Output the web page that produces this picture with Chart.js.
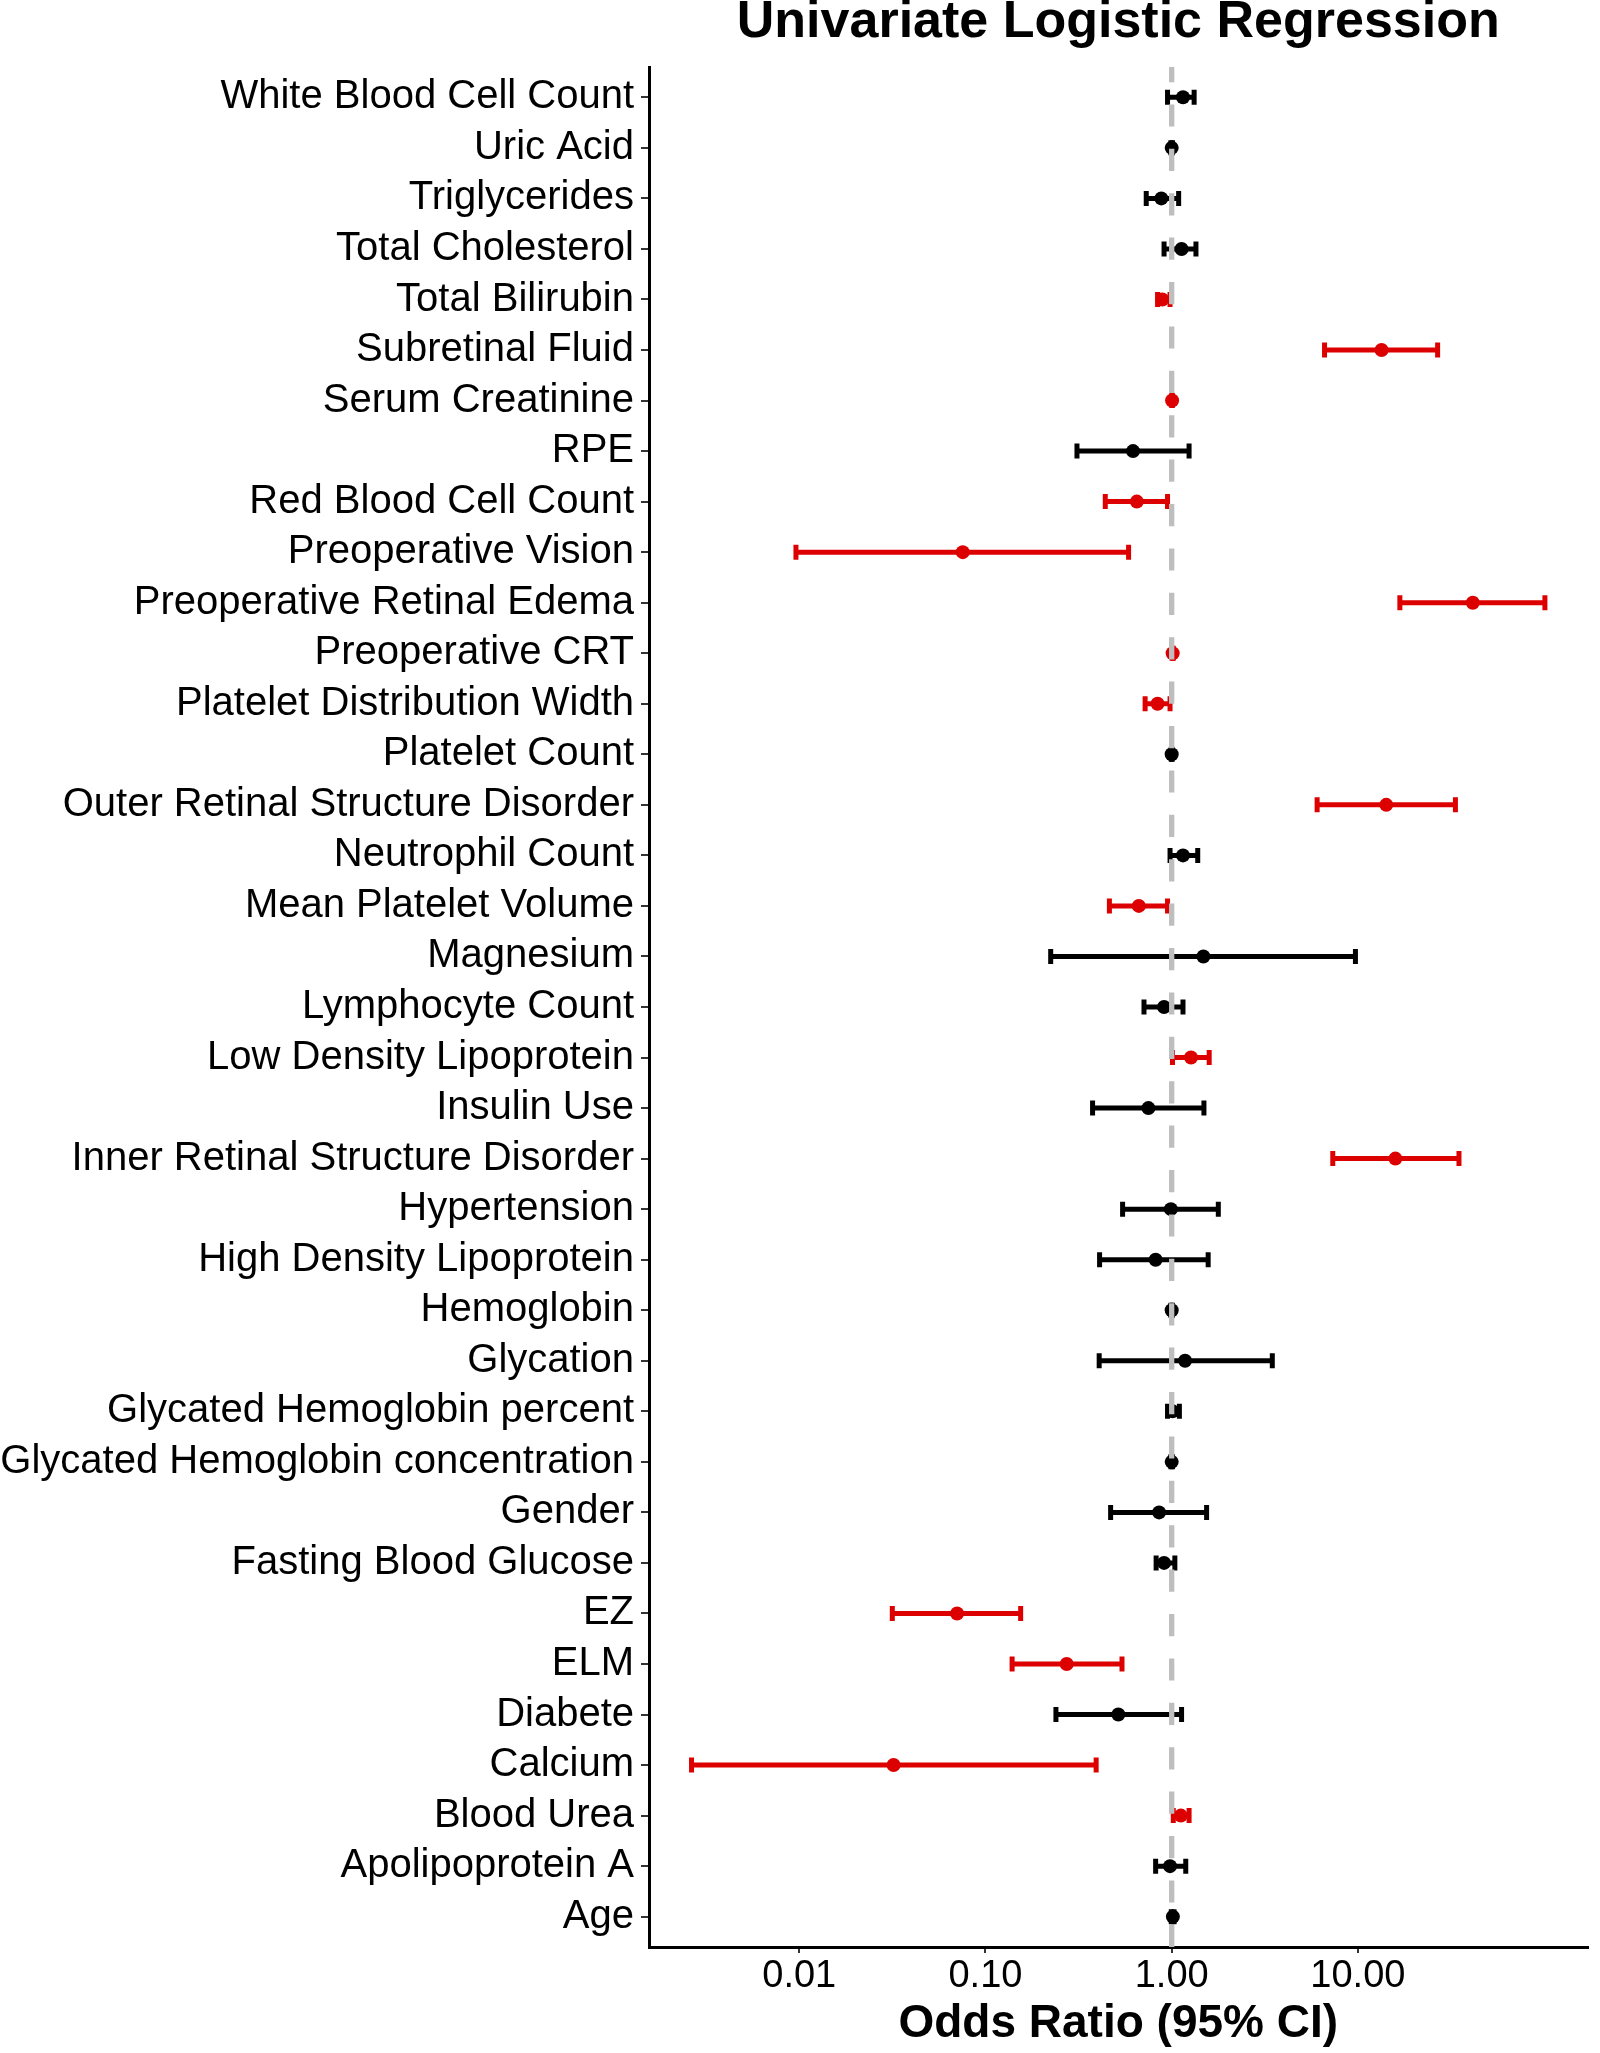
<!DOCTYPE html>
<html><head><meta charset="utf-8">
<script src="https://cdn.jsdelivr.net/npm/chart.js@4.4.0/dist/chart.umd.min.js"></script>
<style>html,body{margin:0;padding:0;background:#fff;} canvas{display:block;}</style>
</head><body>
<canvas id="c" width="1600" height="2053"></canvas>
<script>
const categories = [
  "White Blood Cell Count","Uric Acid","Triglycerides","Total Cholesterol","Total Bilirubin",
  "Subretinal Fluid","Serum Creatinine","RPE","Red Blood Cell Count","Preoperative Vision",
  "Preoperative Retinal Edema","Preoperative CRT","Platelet Distribution Width","Platelet Count",
  "Outer Retinal Structure Disorder","Neutrophil Count","Mean Platelet Volume","Magnesium",
  "Lymphocyte Count","Low Density Lipoprotein","Insulin Use","Inner Retinal Structure Disorder",
  "Hypertension","High Density Lipoprotein","Hemoglobin","Glycation","Glycated Hemoglobin percent",
  "Glycated Hemoglobin concentration","Gender","Fasting Blood Glucose","EZ","ELM","Diabete",
  "Calcium","Blood Urea","Apolipoprotein A","Age"
];
const oddsRatio = [1.15,1.00,0.88,1.13,0.89,13.4,1.005,0.62,0.65,0.0755,41.4,1.012,0.84,1.00,14.2,1.15,0.666,1.48,0.91,1.27,0.75,15.9,0.99,0.82,1.00,1.18,1.01,1.00,0.856,0.91,0.0704,0.273,0.517,0.0321,1.12,0.98,1.015];
const ciLower   = [0.95,0.99,0.73,0.91,0.84,6.62,1.002,0.31,0.44,0.0096,16.8,1.005,0.72,0.995,6.04,0.98,0.463,0.224,0.71,1.01,0.376,7.33,0.545,0.41,0.99,0.408,0.95,0.99,0.47,0.825,0.0316,0.139,0.239,0.00264,1.02,0.82,0.995];
const ciUpper   = [1.32,1.01,1.09,1.35,0.98,26.8,1.008,1.24,0.95,0.587,101,1.02,0.98,1.005,33.4,1.38,0.95,9.7,1.15,1.59,1.49,34.9,1.78,1.57,1.01,3.47,1.10,1.01,1.54,1.04,0.1545,0.541,1.13,0.393,1.24,1.19,1.03];
const significant = [0,0,0,0,1,1,1,0,1,1,1,1,1,0,1,0,1,0,0,1,0,1,0,0,0,0,0,0,0,0,1,1,0,1,1,0,0];
const xTickValues = [0.01, 0.1, 1, 10];
const xTickLabels = ["0.01","0.10","1.00","10.00"];
const referenceOR = [1];
const xLimits = [0.00156, 171];
const chartTitle = "Univariate Logistic Regression";
const xAxisTitle = "Odds Ratio (95% CI)";

const RED = '#DD0000', BLACK = '#000000';
const FONT = "'Liberation Sans', Arial, Helvetica, sans-serif";
const yOf = i => i + 1;
const colorOf = i => significant[i] ? RED : BLACK;
const yMin = 0.4, yMax = categories.length + 0.6;

const datasets = [];
datasets.push({
  label: 'reference', xAxisID: 'x', yAxisID: 'y',
  data: [{x: referenceOR[0], y: yMax}, {x: referenceOR[0], y: yMin}],
  showLine: true, borderColor: '#BEBEBE', borderWidth: 5.3, borderDash: [22.2, 22.2],
  pointRadius: 0, pointHoverRadius: 0, order: 0
});
datasets.push({
  label: 'odds ratio', xAxisID: 'x', yAxisID: 'y',
  data: categories.map((c, i) => ({x: oddsRatio[i], y: yOf(i)})),
  showLine: false, pointRadius: 7, pointHoverRadius: 7,
  pointBackgroundColor: categories.map((c, i) => colorOf(i)), pointBorderWidth: 0, order: 1
});
categories.forEach((c, i) => {
  datasets.push({
    label: c, xAxisID: 'x', yAxisID: 'y',
    data: [{x: ciLower[i], y: yOf(i)}, {x: ciUpper[i], y: yOf(i)}],
    showLine: true, borderColor: colorOf(i), borderWidth: 5,
    pointStyle: 'line', pointRotation: 90, pointRadius: 7.5, pointHoverRadius: 7.5,
    pointBorderWidth: 5, pointBorderColor: colorOf(i), pointBackgroundColor: colorOf(i), order: 2
  });
});

new Chart(document.getElementById('c'), {
  type: 'scatter',
  data: { datasets },
  options: {
    responsive: false, devicePixelRatio: 1, animation: false, events: [],
    layout: { padding: { left: 0, right: 2.5, top: 0, bottom: 0 } },
    plugins: { legend: { display: false }, tooltip: { enabled: false }, title: { display: false } },
    scales: {
      x: {
        type: 'logarithmic', position: 'bottom', min: xLimits[0], max: xLimits[1], bounds: 'data',
        afterBuildTicks: s => { s.ticks = xTickValues.map(v => ({value: v})); },
        afterFit: s => { s.height = 106; },
        ticks: { autoSkip: false, maxRotation: 0, padding: 5, color: '#000',
          font: { family: FONT, size: 38, lineHeight: 1 },
          callback: v => { const k = xTickValues.indexOf(v); return k >= 0 ? xTickLabels[k] : ''; } },
        grid: { display: true, drawOnChartArea: false, drawTicks: true, tickLength: 6, color: '#333333', lineWidth: 2 },
        border: { display: true, color: '#000', width: 3 },
        title: { display: true, text: xAxisTitle, color: '#000',
          font: { family: FONT, size: 46, weight: 'bold', lineHeight: 1 }, padding: { top: 0, bottom: 5.5 } }
      },
      xTop: {
        type: 'linear', position: 'top', min: 0, max: 1, display: true,
        ticks: { display: false }, grid: { display: false, drawTicks: false }, border: { display: false },
        afterFit: s => { s.height = 67; },
        title: { display: true, text: chartTitle, color: '#000',
          font: { family: FONT, size: 52, weight: 'bold', lineHeight: 0.8 }, padding: { top: 1.5, bottom: 0 } }
      },
      y: {
        type: 'linear', position: 'left', reverse: true, min: yMin, max: yMax, bounds: 'data',
        afterBuildTicks: s => { s.ticks = categories.map((c, i) => ({value: yOf(i)})); },
        afterFit: s => { s.width = 649; },
        ticks: { autoSkip: false, padding: 7, color: '#000',
          font: { family: FONT, size: 40, lineHeight: 1 },
          callback: v => categories[Math.round(v) - 1] },
        grid: { display: true, drawOnChartArea: false, drawTicks: true, tickLength: 8, color: '#333333', lineWidth: 2 },
        border: { display: true, color: '#000', width: 3 }
      }
    }
  }
});
</script>
</body></html>
